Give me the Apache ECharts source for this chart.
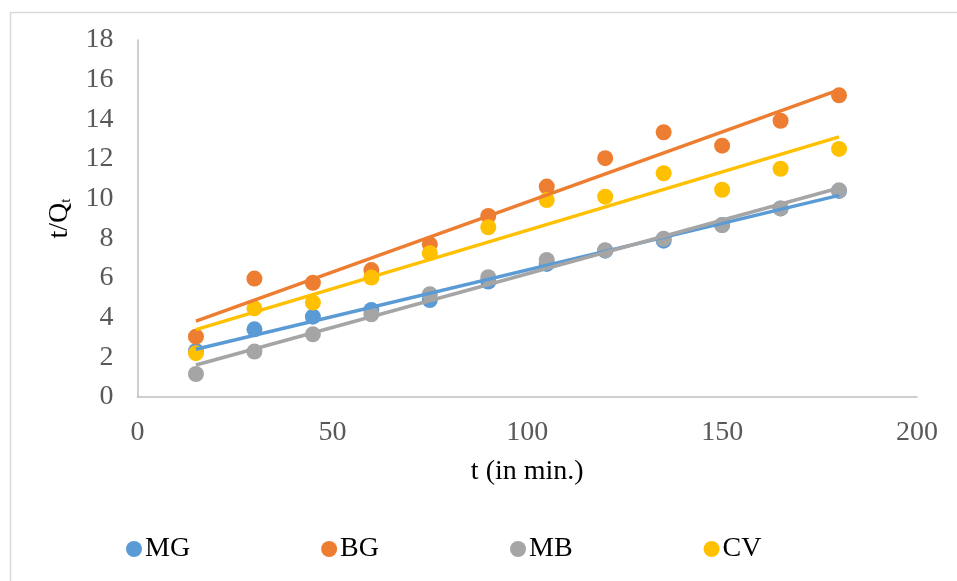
<!DOCTYPE html>
<html>
<head>
<meta charset="utf-8">
<script src="https://cdn.jsdelivr.net/npm/echarts@6/dist/echarts.min.js"></script>
<style>
  html, body { margin: 0; padding: 0; background: #ffffff; }
  #chart { width: 957px; height: 581px; }
</style>
</head>
<body>
<div id="chart"></div>
<script>
// Contact time (min)
const times = [15, 30, 45, 60, 75, 90, 105, 120, 135, 150, 165, 180];

// t/Qt for each dye
const mgValues = [2.32, 3.41, 4.05, 4.39, 4.89, 5.82, 6.71, 7.38, 7.88, 8.67, 9.51, 10.39];
const bgValues = [3.04, 5.97, 5.76, 6.40, 7.70, 9.13, 10.61, 12.04, 13.35, 12.67, 13.93, 15.21];
const mbValues = [1.16, 2.29, 3.16, 4.17, 5.18, 6.04, 6.91, 7.40, 7.98, 8.67, 9.51, 10.42];
const cvValues = [2.21, 4.47, 4.76, 6.02, 7.25, 8.56, 9.93, 10.10, 11.28, 10.45, 11.51, 12.51];

const seriesNames = ['MG', 'BG', 'MB', 'CV'];
const seriesColors = ['#5B9BD5', '#ED7D31', '#A5A5A5', '#FFC000'];
const seriesValues = [mgValues, bgValues, mbValues, cvValues];

const xTicks = { min: 0, max: 200, interval: 50 };
const yTicks = { min: 0, max: 18, interval: 2 };

// Least-squares linear trend through one series
function linearFit(xs, ys) {
  const n = xs.length;
  const mx = xs.reduce((a, b) => a + b, 0) / n;
  const my = ys.reduce((a, b) => a + b, 0) / n;
  let sxy = 0, sxx = 0;
  for (let i = 0; i < n; i++) {
    sxy += (xs[i] - mx) * (ys[i] - my);
    sxx += (xs[i] - mx) * (xs[i] - mx);
  }
  const slope = sxy / sxx;
  const intercept = my - slope * mx;
  const x0 = xs[0], x1 = xs[n - 1];
  return [[x0, intercept + slope * x0], [x1, intercept + slope * x1]];
}

const FONT = '"Liberation Serif", "Times New Roman", serif';

const scatterSeries = seriesNames.map((name, i) => ({
  name: name,
  type: 'scatter',
  symbol: 'circle',
  symbolSize: 16,
  itemStyle: { color: seriesColors[i], opacity: 1 },
  data: times.map((t, k) => [t, seriesValues[i][k]]),
  z: 2
}));

const trendSeries = seriesNames.map((name, i) => ({
  name: name + ' trend',
  type: 'line',
  showSymbol: false,
  symbol: 'none',
  silent: true,
  lineStyle: { color: seriesColors[i], width: 3.5 },
  data: linearFit(times, seriesValues[i]),
  z: 3
}));

const chart = echarts.init(document.getElementById('chart'), null, { renderer: 'canvas' });

chart.setOption({
  animation: false,
  backgroundColor: '#ffffff',
  graphic: [{
    type: 'rect',
    left: 8, top: 10,
    shape: { width: 1200, height: 1200 },
    style: { fill: 'none', stroke: '#d9d9d9', lineWidth: 1.5 },
    silent: true
  }],
  grid: { left: 137.5, right: 40, top: 40, bottom: 184, containLabel: false },
  legend: {
    data: seriesNames,
    left: 121,
    top: 530,
    icon: 'circle',
    itemWidth: 16,
    itemHeight: 16,
    itemGap: 131,
    textStyle: { fontFamily: FONT, fontSize: 28, color: '#000000', padding: [0, 0, 0, -2] }
  },
  xAxis: {
    type: 'value',
    min: xTicks.min, max: xTicks.max, interval: xTicks.interval,
    name: 't (in min.)',
    nameLocation: 'middle',
    nameGap: 61,
    nameTextStyle: { fontFamily: FONT, fontSize: 28, color: '#000000' },
    axisLine: { show: true, lineStyle: { color: '#bfbfbf', width: 1.5 } },
    axisTick: { show: false },
    splitLine: { show: false },
    axisLabel: { fontFamily: FONT, fontSize: 28, color: '#595959', margin: 22 }
  },
  yAxis: {
    type: 'value',
    min: yTicks.min, max: yTicks.max, interval: yTicks.interval,
    name: '{a|t/Q}{b|t}',
    nameLocation: 'middle',
    nameRotate: 90,
    nameGap: 64,
    nameTextStyle: {
      fontFamily: FONT, fontSize: 28, color: '#000000',
      rich: {
        a: { fontFamily: FONT, fontSize: 28, color: '#000000' },
        b: { fontFamily: FONT, fontSize: 15, color: '#000000', verticalAlign: 'bottom', padding: [6, 0, 0, 0] }
      }
    },
    axisLine: { show: true, lineStyle: { color: '#bfbfbf', width: 1.5 } },
    axisTick: { show: false },
    splitLine: { show: false },
    axisLabel: { fontFamily: FONT, fontSize: 28, color: '#595959', margin: 24 }
  },
  series: scatterSeries.concat(trendSeries)
});
</script>
</body>
</html>
